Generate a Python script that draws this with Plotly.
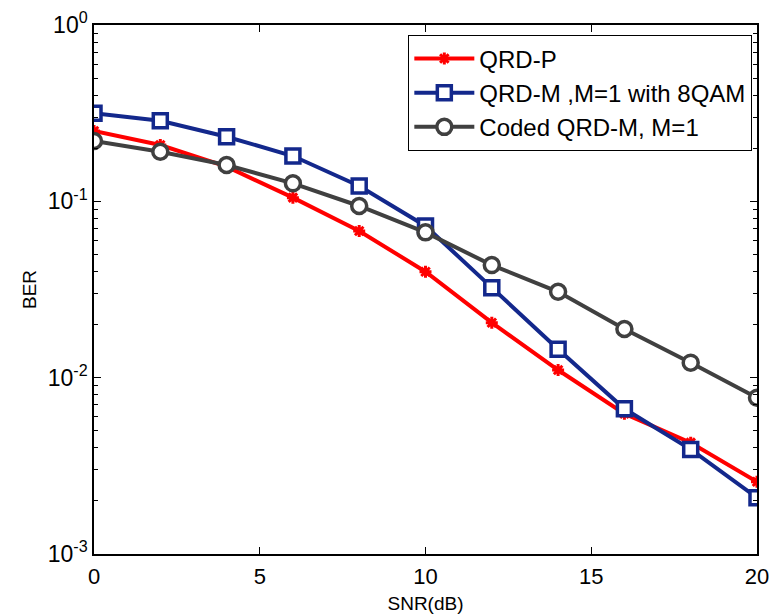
import plotly.graph_objects as go

snr = [0, 2, 4, 6, 8, 10, 12, 14, 16, 18, 20]
ber_qrdp = [0.2505, 0.2087, 0.1572, 0.1049, 0.0679, 0.0399, 0.0205, 0.01105, 0.00625, 0.00428, 0.00257]
ber_qrdm_8qam = [0.316, 0.2866, 0.2325, 0.1807, 0.1221, 0.0725, 0.0324, 0.01448, 0.00666, 0.00392, 0.002085]
ber_coded = [0.2199, 0.1912, 0.1607, 0.1265, 0.0941, 0.0667, 0.0435, 0.0307, 0.01888, 0.01216, 0.00769]

names = ["QRD-P", "QRD-M ,M=1 with 8QAM", "Coded QRD-M, M=1"]
x_ticks = [0, 5, 10, 15, 20]
y_tickvals = [1e-3, 1e-2, 1e-1, 1e0]
y_ticktext = ["10<sup>-3</sup>", "10<sup>-2</sup>", "10<sup>-1</sup>", "10<sup>0</sup>"]

FONT = "Arial, Liberation Sans, sans-serif"
RED = "#FF0000"
BLUE = "#13288C"
GRAY = "#404040"

fig = go.Figure()
fig.add_trace(go.Scatter(
    x=snr, y=ber_qrdp, name=names[0], mode="lines+markers",
    line=dict(color=RED, width=4),
    marker=dict(symbol="asterisk-open", size=10, color=RED, line=dict(color=RED, width=3)),
))
fig.add_trace(go.Scatter(
    x=snr, y=ber_qrdm_8qam, name=names[1], mode="lines+markers",
    line=dict(color=BLUE, width=4),
    marker=dict(symbol="square", size=14, color="white", line=dict(color=BLUE, width=3.5)),
))
fig.add_trace(go.Scatter(
    x=snr, y=ber_coded, name=names[2], mode="lines+markers",
    line=dict(color=GRAY, width=4),
    marker=dict(symbol="circle", size=15, color="white", line=dict(color=GRAY, width=3.5)),
))

minor_y = []
for d in [1e-3, 1e-2, 1e-1]:
    for k in range(2, 10):
        minor_y.append(k * d)

fig.update_layout(
    width=771, height=614,
    margin=dict(l=94, r=14, t=25, b=60, autoexpand=False),
    paper_bgcolor="white", plot_bgcolor="white",
    font=dict(family=FONT, size=22, color="black"),
    showlegend=True,
    legend=dict(
        x=0.9925, y=0.981, xanchor="right", yanchor="top",
        bgcolor="white", bordercolor="black", borderwidth=1.3,
        font=dict(family=FONT, size=24, color="black"),
        tracegroupgap=0, itemwidth=60,
    ),
    xaxis=dict(
        range=[0, 20], tickvals=x_ticks, ticktext=[str(v) for v in x_ticks],
        showgrid=False, zeroline=False, automargin=False,
        showline=True, linecolor="black", linewidth=1.5, mirror="ticks",
        ticks="inside", ticklen=7, tickwidth=1, tickcolor="black",
        ticklabelstandoff=2,
        tickfont=dict(family=FONT, size=22, color="black"),
        title=dict(text="SNR(dB)", font=dict(family=FONT, size=19, color="black"), standoff=10),
    ),
    yaxis=dict(
        type="log", range=[-3, 0], tickvals=y_tickvals, ticktext=y_ticktext,
        showgrid=False, zeroline=False, automargin=False,
        showline=True, linecolor="black", linewidth=1.5, mirror="ticks",
        ticks="inside", ticklen=7, tickwidth=1, tickcolor="black",
        ticklabelstandoff=0,
        tickfont=dict(family=FONT, size=23, color="black"),
        minor=dict(tickvals=minor_y, ticks="inside", ticklen=4, tickwidth=1, tickcolor="black", showgrid=False),
        title=dict(text="BER", font=dict(family=FONT, size=19, color="black"), standoff=6),
    ),
)

fig.write_html("out.html")
